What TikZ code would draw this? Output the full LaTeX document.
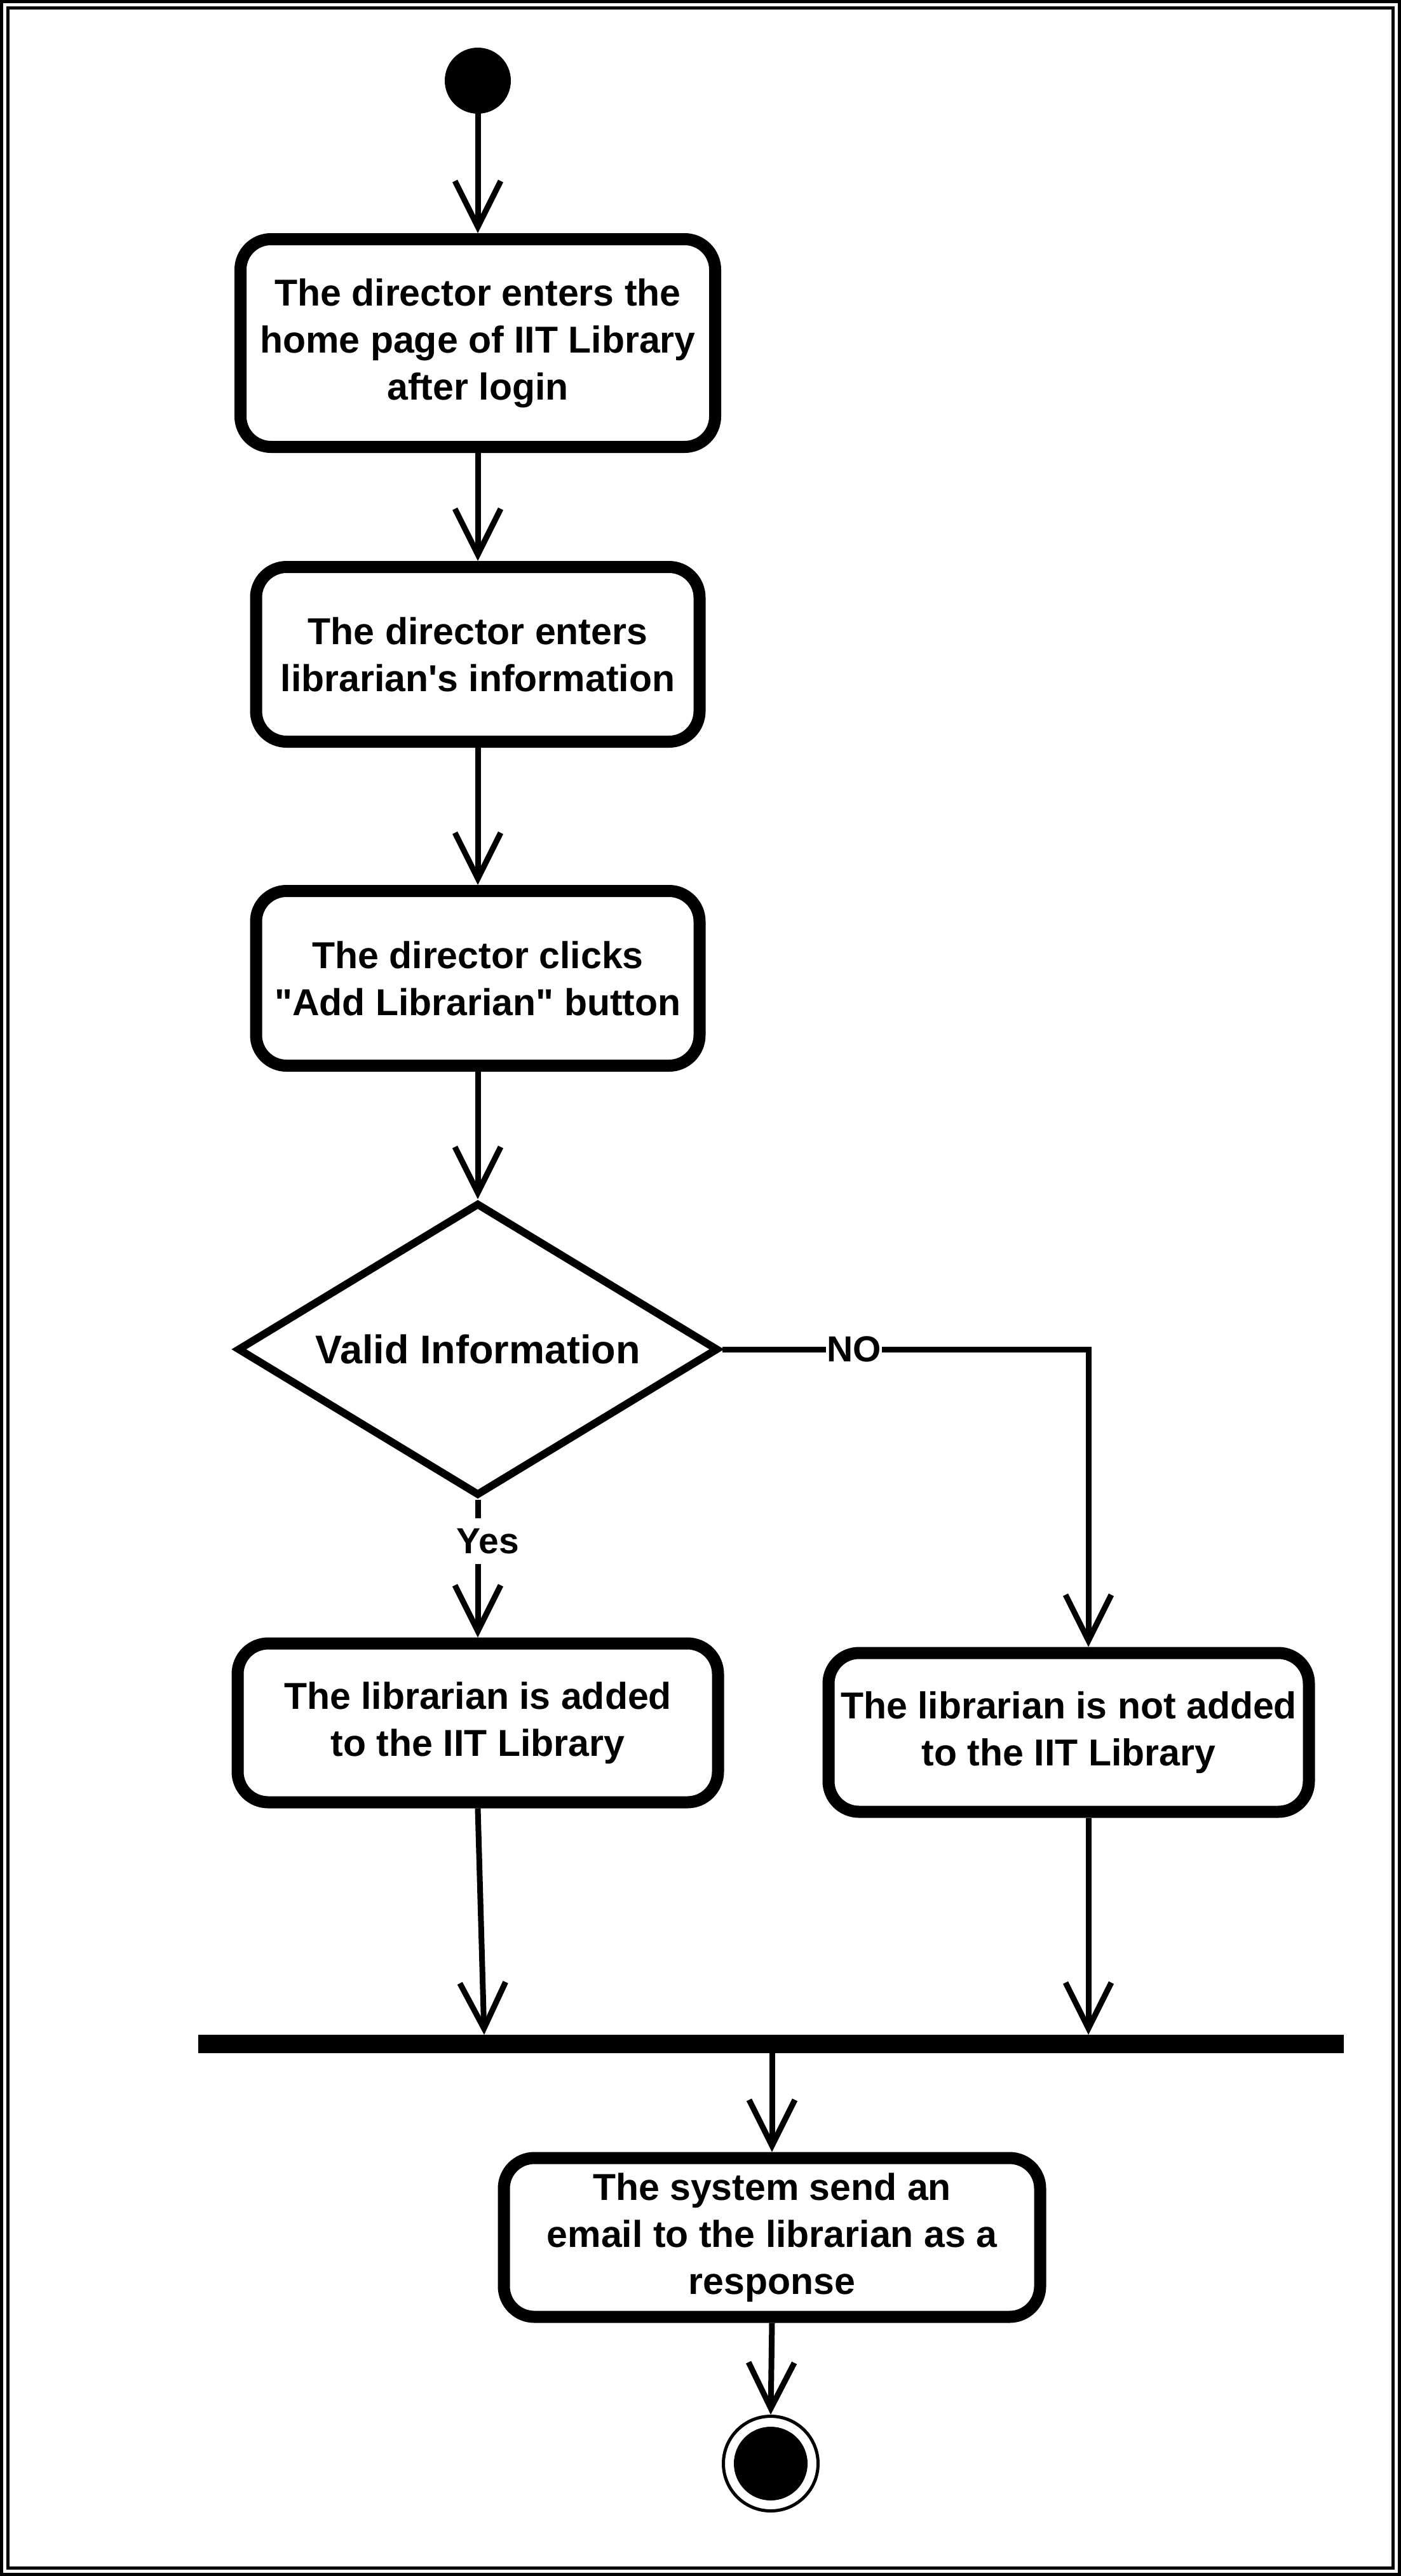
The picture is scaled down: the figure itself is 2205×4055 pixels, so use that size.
\documentclass[tikz,border=0pt]{standalone}
\usepackage{fontspec}
\setmainfont{Liberation Sans}[Ligatures=TeXOff]
\usetikzlibrary{arrows.meta,shapes.geometric}
\tikzset{
  act/.style={draw, line width=19pt, rounded corners=48pt, inner sep=0pt, align=center,
    fill=white, font=\bfseries\fontsize{59}{74}\selectfont},
  dia/.style={diamond, aspect=1.63, draw, line width=12pt, inner sep=0pt, minimum width=757pt,
    minimum height=461pt, fill=white, font=\bfseries\fontsize{63}{76}\selectfont},
  conn/.style={line width=9pt, -{Straight Barb[length=72pt,width=72pt]}},
  lbl/.style={fill=white, inner xsep=1pt, inner ysep=16pt, font=\bfseries\fontsize{57}{70}\selectfont},
  startn/.style={circle, fill=black, minimum size=104pt, inner sep=0pt, outer sep=0pt},
  barn/.style={rectangle, fill=black, minimum width=1803pt, minimum height=29pt, inner sep=0pt, outer sep=0pt},
  endn/.style={circle, draw, line width=5pt, minimum size=149pt, inner sep=0pt},
  frame/.style={draw, line width=5pt},
}
\begin{document}
\begin{tikzpicture}[x=1pt,y=-1pt]
\useasboundingbox (0,0) rectangle (2205,4055);
\draw[frame] (2.5,2.5) rectangle (2202.5,4052.5);
\draw[frame] (12.5,12.5) rectangle (2192.5,4042.5);

\node[startn] (s) at (752,127) {};
\node[act, minimum width=747pt, minimum height=327pt] (b1) at (752,540)
  {The director enters the\\home page of IIT Library\\after login};
\node[act, minimum width=698pt, minimum height=275pt] (b2) at (752,1030)
  {The director enters\\librarian's information};
\node[act, minimum width=698pt, minimum height=275pt] (b3) at (752,1540)
  {The director clicks\\"Add Librarian" button};
\node[dia] (d) at (752,2124) {Valid Information};
\node[act, minimum width=756pt, minimum height=250pt] (b4) at (752,2712)
  {The librarian is added\\to the IIT Library};
\node[act, minimum width=756pt, minimum height=250pt] (b5) at (1682,2727)
  {The librarian is not added\\to the IIT Library};
\node[barn] (bar) at (1213.5,3217.5) {};
\node[act, minimum width=844pt, minimum height=250pt] (b6) at (1215,3522)
  {The system send an\\email to the librarian as a\\response};
\node[endn] (e) at (1213,3878) {};
\fill (e.center) circle (58pt);

\coordinate (j1) at (762,3203);
\coordinate (j2) at (1713,3203);
\coordinate (nc) at (d.east -| j2);

\draw[conn] (s.south) -- (b1.north);
\draw[conn] (b1.south) -- (b2.north);
\draw[conn] (b2.south) -- (b3.north);
\draw[conn] (b3.south) -- (d.north);
\draw[conn] (d.east) -- (nc) -- (nc |- b5.north);
\node[lbl] (no) at (1344,2124) {NO};
\draw[conn] (d.south) -- (b4.north);
\node[lbl] (yes) at (768,2426) {Yes};
\draw[conn] (b4.south) -- (j1);
\draw[conn] (j2 |- b5.south) -- (j2);
\draw[conn] (b6.north |- bar.south) -- (b6.north);
\draw[conn] (b6.south) -- (e.north);
\end{tikzpicture}
\end{document}
